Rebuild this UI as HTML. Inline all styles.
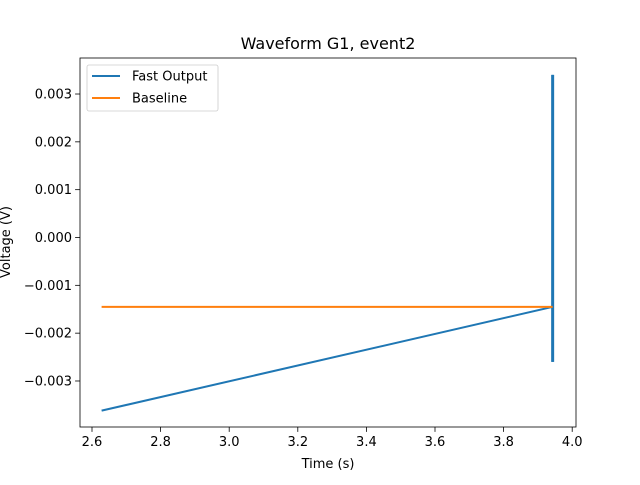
<!DOCTYPE html>
<html><head><meta charset="utf-8"><style>
body{margin:0;background:#fff;}
svg text{font-family:"DejaVu Sans","Liberation Sans",sans-serif;}
</style></head><body>
<svg id="chart" width="640" height="480" viewBox="0 0 640 480" xmlns="http://www.w3.org/2000/svg">
<rect width="640" height="480" fill="#fff"/>
<g id="plot"></g>
</svg>
<script>
const xTicks=[2.6,2.8,3.0,3.2,3.4,3.6,3.8,4.0];
const xTickLabels=["2.6","2.8","3.0","3.2","3.4","3.6","3.8","4.0"];
const yTicks=[0.003,0.002,0.001,0,-0.001,-0.002,-0.003];
const yTickLabels=["0.003","0.002","0.001","0.000","\u22120.001","\u22120.002","\u22120.003"];
const fastTime=[2.628,3.943,3.943,3.943,3.943];
const fastVolt=[-0.00362,-0.00145,0.0034,-0.0026,-0.0016];
const baseTime=[2.628,3.943];
const baseVolt=[-0.00145,-0.00145];

const L=80,R=576,T=58,B=427;
const xs=v=>92+(v-2.6)*343;
const ys=v=>237.5-v*47.83*1000;
const NS="http://www.w3.org/2000/svg";
const g=document.getElementById('plot');
function mk(t,a,p){const e=document.createElementNS(NS,t);for(const k in a)e.setAttribute(k,a[k]);(p||g).appendChild(e);return e;}

const ln=(tv,vv,c,n,w)=>{const e=mk('polyline',{points:tv.map((t,i)=>xs(t)+','+ys(vv[i])).join(' '),fill:'none',stroke:c,'stroke-width':w});

};
ln(fastTime,fastVolt,'#1f77b4','fast-output-line',2);
const vx=xs(fastTime[fastTime.length-1]);
const vb=mk('line',{x1:vx,x2:vx,y1:ys(Math.max(...fastVolt)),y2:ys(Math.min(...fastVolt.slice(1))),stroke:'#1f77b4','stroke-width':3});


ln(baseTime,baseVolt,'#ff7f0e','baseline-line',2);

const ax=mk('rect',{x:L,y:T,width:R-L,height:B-T,fill:'none',stroke:'#000','stroke-width':0.8});



xTicks.forEach((v,i)=>{const x=xs(v);mk('line',{x1:x,x2:x,y1:B,y2:B+4.9,stroke:'#000','stroke-width':0.8});
const t=mk('text',{x:x,y:B+19,'text-anchor':'middle','font-size':13});t.textContent=xTickLabels[i];

});
yTicks.forEach((v,i)=>{const y=ys(v);mk('line',{x1:L-4.9,x2:L,y1:y,y2:y,stroke:'#000','stroke-width':0.8});
const t=mk('text',{x:L-8,y:y+4.5,'text-anchor':'end','font-size':13});t.textContent=yTickLabels[i];

});

let t=mk('text',{x:328,y:49,'text-anchor':'middle','font-size':16});t.textContent='Waveform G1, event2';


t=mk('text',{x:328,y:468,'text-anchor':'middle','font-size':13});t.textContent='Time (s)';


t=mk('text',{x:0,y:0,'text-anchor':'middle','font-size':13,transform:'translate(10,242) rotate(-90)'});t.textContent='Voltage (V)';



const lg=mk('g',{});


mk('rect',{x:87,y:65,width:131,height:46,rx:2,fill:'#fff',stroke:'#ccc','stroke-width':0.8},lg);
[['Fast Output','#1f77b4'],['Baseline','#ff7f0e']].forEach((d,i)=>{const y=76+i*22;
const e=mk('g',{},lg);


mk('line',{x1:92,x2:120,y1:y,y2:y,stroke:d[1],'stroke-width':2},e);
const tt=mk('text',{x:132,y:y+4.5,'font-size':13},e);tt.textContent=d[0];});
</script>
</body></html>
